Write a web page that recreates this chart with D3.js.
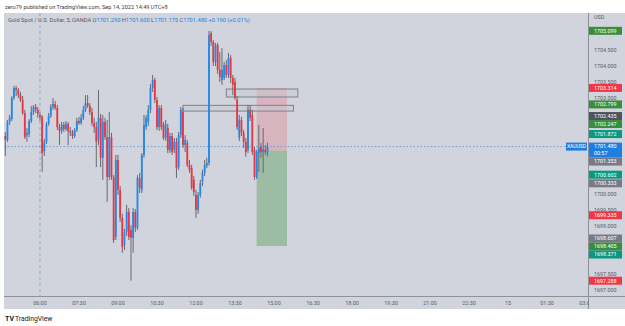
<!DOCTYPE html>
<html>
<head>
<meta charset="utf-8">
<title>Gold Spot / U.S. Dollar, 5, OANDA</title>
<style>
  body { margin: 0; background: #fff; }
  svg { display: block; font-family: Roboto, "Noto Sans", sans-serif; }
</style>
<script src="https://cdn.jsdelivr.net/npm/d3@7"></script>
</head>
<body>
<svg width="625" height="326"></svg>
<script>
// 5 minute bars, first one at 04:40 (UTC+8), [open, high, low, close]
var firstBar = new Date(2022, 8, 14, 4, 40);
var barMinutes = 5;
var candles = [
  [1701.81, 1701.94, 1701.19, 1701.69], [1701.69, 1702.31, 1701.63, 1702.25], [1702.25, 1702.47, 1702.16, 1702.38],
  [1702.34, 1703.06, 1702.28, 1703.00], [1703.00, 1703.38, 1702.94, 1703.31], [1703.31, 1703.38, 1703.06, 1703.25],
  [1703.25, 1703.31, 1703.00, 1703.09], [1703.09, 1703.19, 1702.88, 1702.94], [1702.94, 1703.06, 1702.47, 1702.53],
  [1702.53, 1702.63, 1701.72, 1701.78], [1701.84, 1702.06, 1701.63, 1701.91], [1701.88, 1702.34, 1701.78, 1702.28],
  [1702.28, 1702.75, 1702.22, 1702.56], [1702.56, 1702.78, 1702.47, 1702.72], [1702.72, 1702.81, 1702.53, 1702.63],
  [1702.63, 1702.72, 1702.38, 1702.50], [1702.47, 1702.56, 1702.28, 1702.41], [1702.41, 1702.47, 1700.69, 1701.28],
  [1701.34, 1701.72, 1701.19, 1701.63], [1701.63, 1702.25, 1701.56, 1702.19], [1702.19, 1702.53, 1702.13, 1702.44],
  [1702.44, 1702.81, 1702.38, 1702.72], [1702.72, 1703.00, 1702.63, 1702.81], [1702.81, 1702.91, 1702.63, 1702.69],
  [1702.69, 1702.78, 1702.00, 1702.09], [1702.09, 1702.19, 1701.53, 1701.97], [1701.97, 1702.25, 1701.88, 1702.16],
  [1702.16, 1702.25, 1701.94, 1702.03], [1702.03, 1702.28, 1701.97, 1702.19], [1702.19, 1702.25, 1701.53, 1701.97],
  [1701.97, 1702.09, 1701.81, 1701.91], [1701.91, 1702.00, 1701.72, 1701.81], [1701.81, 1702.06, 1701.75, 1702.00],
  [1702.00, 1702.38, 1701.94, 1702.28], [1702.28, 1702.41, 1702.16, 1702.22], [1702.22, 1702.50, 1702.16, 1702.38],
  [1702.38, 1702.75, 1702.31, 1702.63], [1702.63, 1703.09, 1702.56, 1702.84], [1702.84, 1703.09, 1702.69, 1702.75],
  [1702.75, 1702.84, 1702.47, 1702.56], [1702.56, 1702.69, 1702.13, 1702.22], [1702.22, 1702.38, 1701.91, 1702.09],
  [1702.09, 1702.25, 1700.84, 1701.63], [1701.69, 1703.25, 1701.53, 1702.38], [1702.38, 1702.50, 1700.84, 1701.13],
  [1701.13, 1702.47, 1700.44, 1702.25], [1702.25, 1702.38, 1701.69, 1701.78], [1701.78, 1702.31, 1699.75, 1700.53],
  [1700.53, 1702.56, 1700.44, 1701.78], [1701.78, 1701.91, 1700.44, 1700.53], [1700.53, 1700.59, 1698.47, 1698.56],
  [1698.66, 1701.22, 1698.56, 1701.06], [1701.06, 1701.22, 1699.97, 1700.13], [1700.13, 1700.25, 1699.13, 1699.25],
  [1699.25, 1699.38, 1698.16, 1698.34], [1698.41, 1698.91, 1698.25, 1698.81], [1698.81, 1699.66, 1698.69, 1699.44],
  [1699.44, 1699.56, 1698.56, 1698.66], [1698.88, 1699.03, 1697.288, 1698.63], [1698.63, 1699.56, 1698.16, 1699.44],
  [1699.44, 1699.53, 1698.81, 1698.94], [1698.94, 1700.59, 1698.88, 1700.50], [1700.50, 1700.66, 1700.03, 1700.19],
  [1700.13, 1701.28, 1700.03, 1701.22], [1701.22, 1702.47, 1701.13, 1702.16], [1702.09, 1702.47, 1702.00, 1702.38],
  [1702.25, 1702.78, 1702.13, 1702.63], [1702.63, 1703.44, 1702.53, 1703.31], [1703.31, 1703.72, 1703.19, 1703.56],
  [1703.56, 1703.63, 1702.84, 1702.94], [1702.94, 1703.03, 1702.00, 1702.09], [1702.09, 1702.78, 1701.97, 1702.69],
  [1702.69, 1702.78, 1702.00, 1702.09], [1702.16, 1702.25, 1701.69, 1701.75], [1701.75, 1702.31, 1701.66, 1702.19],
  [1702.06, 1702.19, 1701.28, 1701.38], [1701.38, 1701.91, 1701.28, 1701.81], [1701.81, 1701.91, 1701.22, 1701.31],
  [1701.38, 1701.75, 1701.28, 1701.63], [1701.63, 1701.75, 1700.50, 1700.81], [1700.84, 1701.94, 1700.75, 1701.84],
  [1701.84, 1702.72, 1701.75, 1702.63], [1702.56, 1702.69, 1701.44, 1701.53], [1701.53, 1701.84, 1701.31, 1701.69],
  [1701.59, 1701.69, 1700.84, 1700.91], [1700.91, 1701.06, 1700.66, 1700.75], [1700.81, 1700.91, 1700.13, 1700.19],
  [1700.44, 1700.56, 1699.94, 1700.06], [1699.97, 1700.13, 1699.25, 1699.50], [1699.50, 1700.06, 1699.38, 1699.97],
  [1699.97, 1700.44, 1699.88, 1700.34], [1700.38, 1700.75, 1700.25, 1700.66], [1700.66, 1701.06, 1700.56, 1700.91],
  [1700.88, 1701.13, 1700.81, 1700.97], [1700.97, 1705.099, 1700.88, 1704.97], [1705.03, 1705.09, 1704.63, 1704.75],
  [1704.75, 1704.81, 1704.00, 1704.13], [1704.13, 1704.72, 1704.00, 1704.66], [1704.66, 1704.72, 1703.75, 1703.88],
  [1703.88, 1704.44, 1703.50, 1703.66], [1703.56, 1704.56, 1703.41, 1703.88], [1703.63, 1704.13, 1703.56, 1704.03],
  [1704.03, 1704.19, 1703.63, 1703.72], [1703.72, 1704.41, 1703.63, 1704.25], [1704.25, 1704.34, 1703.47, 1703.63],
  [1703.63, 1703.72, 1703.09, 1703.41], [1703.50, 1703.63, 1702.94, 1703.00], [1702.94, 1703.06, 1702.00, 1702.09],
  [1701.75, 1702.47, 1701.66, 1702.31], [1702.31, 1702.41, 1701.81, 1701.91], [1701.91, 1702.00, 1701.44, 1701.63],
  [1701.63, 1701.75, 1701.16, 1701.31], [1701.38, 1702.78, 1701.28, 1702.63], [1702.63, 1702.78, 1702.28, 1702.38],
  [1702.47, 1702.63, 1701.22, 1701.31], [1701.38, 1701.47, 1700.44, 1700.53], [1700.53, 1701.38, 1700.47, 1701.31],
  [1701.28, 1702.16, 1700.69, 1701.44], [1701.47, 1701.59, 1701.13, 1701.31], [1701.31, 1702.06, 1700.66, 1701.41],
  [1701.38, 1701.53, 1701.22, 1701.31], [1701.29, 1701.60, 1701.175, 1701.48]
];

var priceTicks = [1697, 1697.5, 1698, 1698.5, 1699, 1699.5, 1700, 1700.5, 1701, 1701.5,
                  1702, 1702.5, 1703, 1703.5, 1704, 1704.5, 1705];
var timeLabels = ["06:00", "07:30", "09:00", "10:30", "12:00", "13:30", "15:00", "16:30",
                  "18:00", "19:30", "21:00", "22:30", "15", "01:30", "03:00"];

// indicator values shown on the price scale
var levelPrices = [1705.099, 1703.314, 1702.799, 1702.435, 1702.247, 1701.872, 1701.480, 1701.353,
                   1700.602, 1700.333, 1699.335, 1698.607, 1698.405, 1698.371, 1697.288];
var levelColors = ["#388e3c", "#f23645", "#388e3c", "#50535e", "#388e3c", "#089981", "#1e7fe0", "#787b86",
                   "#089981", "#787b86", "#f23645", "#787b86", "#388e3c", "#089981", "#f23645"];

// short position tool
var posStart = "14:20", posEnd = "15:30";
var posEntry = 1701.353, posStop = 1703.314, posTarget = 1698.371;

// rectangles drawn on the chart
var zoneFrom = ["13:10", "11:30"];
var zoneTo = ["15:55", "15:45"];
var zoneTop = [1703.28, 1702.77];
var zoneBottom = [1703.03, 1702.59];

var lastPrice = 1701.480;

function atTime(s) {
  if (s == "15") return new Date(2022, 8, 15, 0, 0);
  var p = s.split(":"), h = +p[0];
  return new Date(2022, 8, h < 4 ? 15 : 14, h, +p[1]);
}

var svg = d3.select("svg");
var pL = 4, pR = 588, pT = 13, pB = 296;
var bg = "#d1d4dc";

var x = d3.scaleTime()
  .domain([new Date(2022, 8, 14, 4, 37), new Date(2022, 8, 15, 3, 0)])
  .range([pL, 586]);
var y = d3.scaleLinear().domain([1696.81, 1705.656]).range([pB, pT]);

function barTime(i) { return new Date(firstBar.getTime() + i * barMinutes * 60000); }

// backgrounds
svg.append("rect").attr("x", pL).attr("y", pT).attr("width", 625 - pL).attr("height", 309 - pT).attr("fill", bg);

svg.append("text").attr("x", 5).attr("y", 9).attr("font-size", 5.6).attr("fill", "#3a3d45")
  .text("zero79 published on TradingView.com, Sep 14, 2022 14:49 UTC+8");

var defs = svg.append("defs");
defs.append("clipPath").attr("id", "plot").append("rect")
  .attr("x", pL).attr("y", pT).attr("width", pR - pL).attr("height", pB - pT);

var g = svg.append("g").attr("clip-path", "url(#plot)");

// session break
g.append("line").attr("x1", x(atTime("06:00"))).attr("x2", x(atTime("06:00")))
  .attr("y1", pT).attr("y2", pB)
  .attr("stroke", "#6b9fe0").attr("stroke-width", 0.8).attr("stroke-dasharray", "3,3");

// position tool
var px0 = x(atTime(posStart)), px1 = x(atTime(posEnd));
g.append("rect").attr("x", px0).attr("width", px1 - px0)
  .attr("y", y(posStop)).attr("height", y(posEntry) - y(posStop))
  .attr("fill", "rgba(242,54,69,0.2)");
g.append("rect").attr("x", px0).attr("width", px1 - px0)
  .attr("y", y(posEntry)).attr("height", y(posTarget) - y(posEntry))
  .attr("fill", "rgba(56,142,60,0.35)");

// zones
zoneFrom.forEach(function(f, i) {
  var x0 = x(atTime(f)), x1 = x(atTime(zoneTo[i]));
  g.append("rect").attr("x", x0).attr("width", x1 - x0)
    .attr("y", y(zoneTop[i])).attr("height", y(zoneBottom[i]) - y(zoneTop[i]))
    .attr("fill", "rgba(200,202,210,0.5)").attr("stroke", "#7e818a").attr("stroke-width", 1);
});

// last price line
g.append("line").attr("x1", pL).attr("x2", 566).attr("y1", y(lastPrice)).attr("y2", y(lastPrice))
  .attr("stroke", "#5b8fd6").attr("stroke-width", 0.8).attr("stroke-dasharray", "1.5,2");

// candles
var bars = g.append("g").selectAll("g").data(candles).enter().append("g")
  .attr("transform", function(d, i) { return "translate(" + x(barTime(i)) + ",0)"; });

bars.append("line")
  .attr("y1", function(d) { return y(d[1]); })
  .attr("y2", function(d) { return y(d[2]); })
  .attr("stroke", "#666972").attr("stroke-width", 1);

bars.append("rect")
  .attr("x", -0.9).attr("width", 1.8)
  .attr("y", function(d) { return y(Math.max(d[0], d[3])); })
  .attr("height", function(d) { return Math.max(1, Math.abs(y(d[0]) - y(d[3]))); })
  .attr("fill", function(d) { return d[3] >= d[0] ? "#2189ea" : "#ef3340"; });

// legend
var leg = svg.append("text").attr("x", 8).attr("y", 22).attr("font-size", 5.7).attr("fill", "#555a66");
leg.append("tspan").text("Gold Spot / U.S. Dollar, 5, OANDA  ");
var last = candles[candles.length - 1];
["O", "H", "L", "C"].forEach(function(k, i) {
  leg.append("tspan").text(k);
  leg.append("tspan").attr("fill", "#1e7fe0").text(d3.format(".3f")(last[i]) + "  ");
});
leg.append("tspan").attr("fill", "#1e7fe0")
  .text(d3.format("+.3f")(last[3] - last[0]) + " (" + d3.format("+.2f")((last[3] - last[0]) / last[0] * 100) + "%)");

// axes frame
svg.append("line").attr("x1", pL).attr("x2", 625).attr("y1", pB + 0.5).attr("y2", pB + 0.5)
  .attr("stroke", "#8e9199").attr("stroke-width", 1);
svg.append("line").attr("x1", pR + 0.5).attr("x2", pR + 0.5).attr("y1", pT).attr("y2", 309)
  .attr("stroke", "#8e9199").attr("stroke-width", 1);

// time axis
svg.append("g").selectAll("text").data(timeLabels).enter().append("text")
  .attr("x", function(d) { return x(atTime(d)); })
  .attr("y", 305).attr("text-anchor", "middle").attr("font-size", 5.4).attr("fill", "#555a66")
  .text(function(d) { return d; });
svg.append("rect").attr("x", pR + 1).attr("y", 297).attr("width", 40).attr("height", 12).attr("fill", bg);

// price labels, pushed down when they overlap
var labels = levelPrices.map(function(p, i) {
  var isLast = p === lastPrice;
  return { price: p, color: levelColors[i], h: isLast ? 15 : 8, isLast: isLast };
}).sort(function(a, b) { return b.price - a.price; });
var prevBottom = -Infinity;
labels.forEach(function(l) {
  var t = y(l.price) - 4;
  if (t < prevBottom) t = prevBottom;
  l.top = t;
  prevBottom = t + l.h;
});

// price axis ticks, the ones sitting under a label are hidden like on the platform
var shownTicks = priceTicks.filter(function(p) {
  var c = y(p);
  return !labels.some(function(l) { return c >= l.top - 0.5 && c <= l.top + l.h + 0.5; });
});
svg.append("text").attr("x", 594).attr("y", 19).attr("font-size", 5.4).attr("fill", "#555a66").text("USD");
svg.append("g").selectAll("text").data(shownTicks).enter().append("text")
  .attr("x", 594).attr("y", function(d) { return y(d); }).attr("dy", "0.35em")
  .attr("font-size", 5.4).attr("fill", "#555a66")
  .text(function(d) { return d3.format(".3f")(d); });

var lab = svg.append("g").selectAll("g").data(labels).enter().append("g")
  .attr("transform", function(d) { return "translate(589," + d.top + ")"; });
lab.append("rect").attr("width", 33).attr("height", function(d) { return d.h; })
  .attr("fill", function(d) { return d.color; });
lab.append("text").attr("x", 5).attr("y", 4).attr("dy", "0.35em")
  .attr("font-size", 5.4).attr("fill", "#fff")
  .text(function(d) { return d3.format(".3f")(d.price); });
lab.filter(function(d) { return d.isLast; }).append("text")
  .attr("x", 5).attr("y", 11).attr("dy", "0.35em").attr("font-size", 5.4).attr("fill", "#fff")
  .text("00:57");

svg.append("rect").attr("x", 566).attr("y", y(lastPrice) - 4).attr("width", 21).attr("height", 8).attr("fill", "#1e7fe0");
svg.append("text").attr("x", 576.5).attr("y", y(lastPrice)).attr("dy", "0.35em").attr("text-anchor", "middle")
  .attr("font-size", 5).attr("fill", "#fff").text("XAUUSD");

// footer logo
svg.append("text").attr("x", 5).attr("y", 320.5).attr("font-size", 7).attr("font-weight", "bold")
  .attr("fill", "#131722").text("TV");
svg.append("text").attr("x", 15).attr("y", 320.5).attr("font-size", 6.8).attr("fill", "#131722").text("TradingView");
</script>
</body>
</html>
